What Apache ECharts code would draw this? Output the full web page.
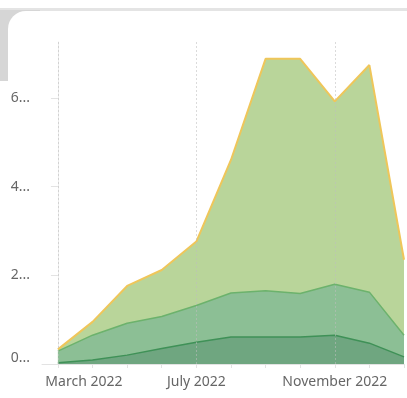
<!DOCTYPE html>
<html>
<head>
<meta charset="utf-8">
<script src="https://cdn.jsdelivr.net/npm/echarts@6/dist/echarts.min.js"></script>
<style>
  html, body { margin: 0; padding: 0; background: #ffffff; }
  #chart { width: 407px; height: 398px; }
</style>
</head>
<body>
<div id="chart"></div>
<script>
// Months along the x axis (index 0 = March 2022)
const months = ['March 2022', 'April 2022', 'May 2022', 'June 2022', 'July 2022',
  'August 2022', 'September 2022', 'October 2022', 'November 2022', 'December 2022', 'January 2023'];
const labelledMonths = [0, 4, 8];

// Stacked series values, bottom to top
const seriesLow = [0.03, 0.09, 0.20, 0.35, 0.49, 0.61, 0.61, 0.61, 0.65, 0.47, 0.16];
const seriesMid = [0.26, 0.56, 0.72, 0.72, 0.83, 0.99, 1.04, 0.98, 1.15, 1.15, 0.49];
const seriesTop = [0.04, 0.30, 0.84, 1.05, 1.44, 3.00, 5.23, 5.29, 4.12, 5.12, 1.70];

// Y tick values and their (truncated) labels
const yTicks = [0, 2, 4, 6];
const yTickLabels = ['0...', '2...', '4...', '6...'];

// Running totals so each band sits on the one below it
const cumLow = seriesLow.slice();
const cumMid = seriesMid.map((v, i) => cumLow[i] + v);
const cumTop = seriesTop.map((v, i) => cumMid[i] + v);

const toPairs = arr => arr.map((v, i) => [i, +v.toFixed(4)]);
const font = '"Noto Sans", "Open Sans", sans-serif';

const chart = echarts.init(document.getElementById('chart'), null, { renderer: 'canvas' });

const option = {
  animation: false,
  backgroundColor: '#ffffff',
  graphic: [
    { type: 'rect', z: -10, shape: { x: 0, y: 8, width: 407, height: 3 }, style: { fill: '#e4e4e4' } },
    { type: 'rect', z: -10, shape: { x: 0, y: 10, width: 40, height: 71 }, style: { fill: '#d6d6d6' } },
    { type: 'rect', z: -9, shape: { x: 8, y: 11, width: 460, height: 460, r: 18 }, style: { fill: '#ffffff' } }
  ],
  grid: { left: 42, right: 3, top: 42, bottom: 34, containLabel: false },
  xAxis: {
    type: 'value',
    min: -0.46,
    max: 10,
    axisLine: { show: true, lineStyle: { color: '#e3e3e3', width: 1 } },
    axisTick: { show: true, customValues: months.map((m, i) => i), length: 4, lineStyle: { color: '#e3e3e3' } },
    splitLine: { show: false },
    axisLabel: {
      customValues: labelledMonths,
      margin: 11,
      fontFamily: font,
      fontSize: 14,
      color: '#666666',
      formatter: v => {
        const name = months[Math.round(v)];
        return Math.round(v) === 0 ? '{first|' + name + '}' : name;
      },
      rich: { first: { padding: [0, 0, 0, 52], fontFamily: font, fontSize: 14, color: '#666666' } }
    }
  },
  yAxis: {
    type: 'value',
    min: 0,
    max: 7.26,
    axisLine: { show: true, lineStyle: { color: '#ececec', width: 1 } },
    axisTick: { show: true, customValues: yTicks, length: 7, lineStyle: { color: '#e3e3e3' } },
    splitLine: { show: false },
    axisLabel: {
      customValues: yTicks,
      margin: 12,
      fontFamily: font,
      fontSize: 14,
      color: '#666666',
      formatter: v => {
        const idx = yTicks.indexOf(Math.round(v));
        const text = idx >= 0 ? yTickLabels[idx] : '';
        return idx === 0 ? '{zero|' + text + '}' : text;
      },
      rich: { zero: { padding: [0, 0, 12, 0], fontFamily: font, fontSize: 14, color: '#666666' } }
    }
  },
  series: [
    {
      name: 'Top',
      type: 'line',
      data: toPairs(cumTop),
      symbol: 'none',
      lineStyle: { color: '#efc65a', width: 2 },
      areaStyle: { color: '#b9d59a', opacity: 1 },
      z: 1
    },
    {
      name: 'Mid',
      type: 'line',
      data: toPairs(cumMid),
      symbol: 'none',
      lineStyle: { color: '#6cb26c', width: 1.5 },
      areaStyle: { color: '#8cbf95', opacity: 1 },
      z: 2
    },
    {
      name: 'Low',
      type: 'line',
      data: toPairs(cumLow),
      symbol: 'none',
      lineStyle: { color: '#3f9157', width: 1.5 },
      areaStyle: { color: '#6fa680', opacity: 1 },
      z: 3,
      markLine: {
        silent: true,
        symbol: 'none',
        label: { show: false },
        lineStyle: { type: [2, 2], color: '#bdbdbd', width: 1, opacity: 0.55 },
        data: labelledMonths.map(i => ({ xAxis: i }))
      }
    }
  ]
};

chart.setOption(option);
</script>
</body>
</html>
